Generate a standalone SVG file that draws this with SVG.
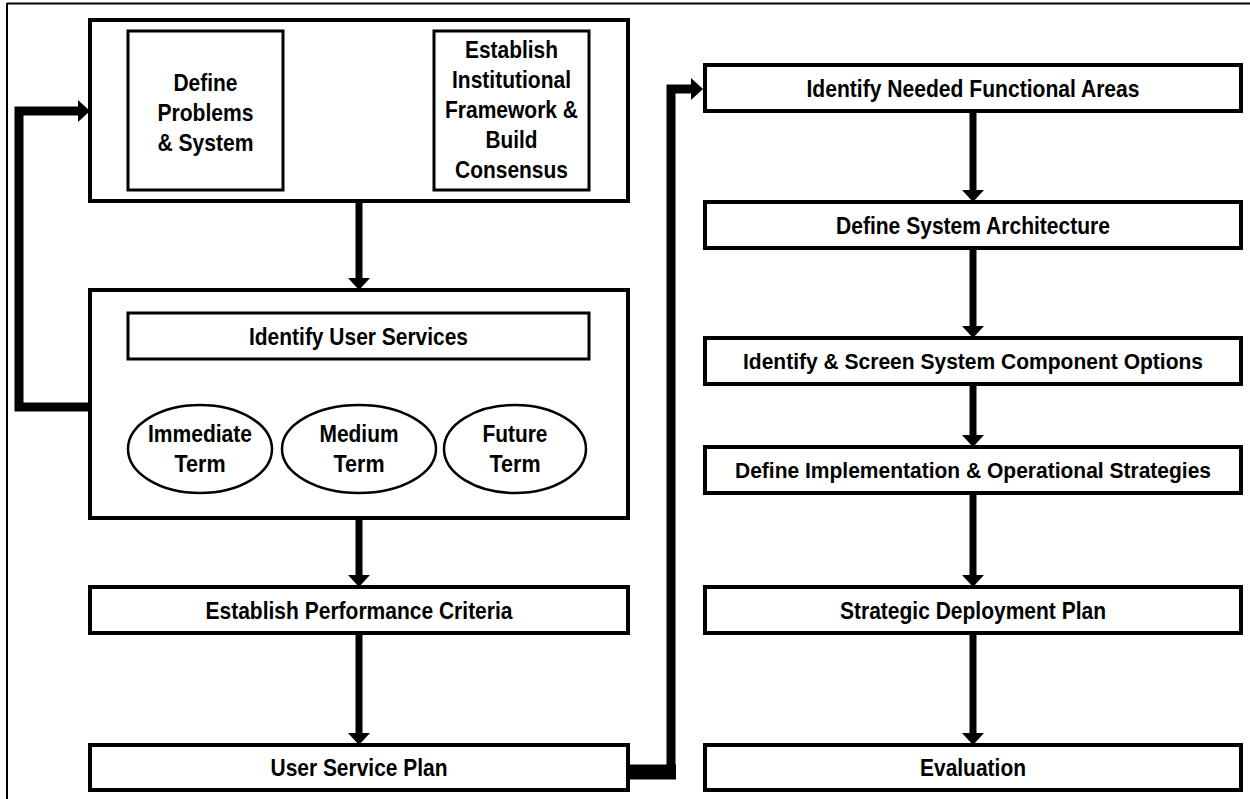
<svg xmlns="http://www.w3.org/2000/svg" width="1250" height="799" viewBox="0 0 1250 799">
<defs>
<style>
.t{font-family:"Liberation Sans",Arial,"DejaVu Sans",sans-serif;font-weight:bold;font-size:24px;text-anchor:middle;fill:#000}
.long{font-size:22.5px}
.big{fill:#fff;stroke:#000;stroke-width:4}
.box{fill:#fff;stroke:#000;stroke-width:4}
.in{fill:#fff;stroke:#000;stroke-width:3}
.ell{fill:#fff;stroke:#000;stroke-width:2.5}
.arr{fill:none;stroke:#000;stroke-width:7}
.thick{fill:none;stroke:#000;stroke-width:9}
.thin{fill:none;stroke:#000;stroke-width:2.5}
</style>
<marker id="ah" markerUnits="userSpaceOnUse" viewBox="0 0 12 22" markerWidth="12" markerHeight="22" refX="6" refY="11" orient="auto-start-reverse">
<path d="M0,0 L12,11 L0,22 Z" fill="#000"/>
</marker>
</defs>
<rect width="1250" height="799" fill="#fff"/>
<g id="frame">
<line x1="7" y1="3.5" x2="1250" y2="3.5" stroke="#000" stroke-width="2"/>
<line x1="7" y1="3" x2="7" y2="799" stroke="#000" stroke-width="2"/>
</g>

<g id="connectors">
<line class="arr" x1="289" y1="113" x2="428" y2="113" marker-start="url(#ah)" marker-end="url(#ah)"/>
<polyline class="thick" points="90,407 19,407 19,111 84,111" marker-end="url(#ah)"/>
<line class="arr" x1="359" y1="203" x2="359" y2="284" marker-end="url(#ah)"/>
<line class="arr" x1="359" y1="520" x2="359" y2="581" marker-end="url(#ah)"/>
<line class="arr" x1="359" y1="635" x2="359" y2="739" marker-end="url(#ah)"/>
<line class="thin" x1="353" y1="360" x2="205" y2="405"/>
<line class="thin" x1="359" y1="360" x2="359" y2="404"/>
<line class="thin" x1="365" y1="360" x2="513" y2="404"/>
<line x1="630" y1="772" x2="676" y2="772" stroke="#000" stroke-width="15"/>
<polyline class="thick" points="671,779 671,89 697,89" marker-end="url(#ah)"/>
<line class="arr" x1="973" y1="113" x2="973" y2="196" marker-end="url(#ah)"/>
<line class="arr" x1="973" y1="250" x2="973" y2="332" marker-end="url(#ah)"/>
<line class="arr" x1="973" y1="386" x2="973" y2="441" marker-end="url(#ah)"/>
<line class="arr" x1="973" y1="495" x2="973" y2="581" marker-end="url(#ah)"/>
<line class="arr" x1="973" y1="635" x2="973" y2="739" marker-end="url(#ah)"/>
</g>

<g id="top-group">
<rect class="big" x="90" y="20" width="538" height="181"/>
</g>
<g id="define-problems">
<rect class="in" x="128" y="31" width="155" height="159"/>
<text class="t" x="205.5" y="91" textLength="64" lengthAdjust="spacingAndGlyphs">Define</text>
<text class="t" x="205.5" y="121" textLength="96" lengthAdjust="spacingAndGlyphs">Problems</text>
<text class="t" x="205.5" y="151" textLength="96" lengthAdjust="spacingAndGlyphs">&amp; System</text>
</g>
<g id="establish-framework">
<rect class="in" x="434" y="31" width="155" height="159"/>
<text class="t" x="511.5" y="58" textLength="93" lengthAdjust="spacingAndGlyphs">Establish</text>
<text class="t" x="511.5" y="88" textLength="119" lengthAdjust="spacingAndGlyphs">Institutional</text>
<text class="t" x="511.5" y="118" textLength="133" lengthAdjust="spacingAndGlyphs">Framework &amp;</text>
<text class="t" x="511.5" y="148" textLength="52" lengthAdjust="spacingAndGlyphs">Build</text>
<text class="t" x="511.5" y="178" textLength="113" lengthAdjust="spacingAndGlyphs">Consensus</text>
</g>

<g id="user-services-group">
<rect class="big" x="90" y="290" width="538" height="228"/>
</g>
<g id="identify-user-services">
<rect class="in" x="128" y="313" width="461" height="46"/>
<text class="t" x="358.5" y="345" textLength="219" lengthAdjust="spacingAndGlyphs">Identify User Services</text>
</g>
<g id="immediate-term">
<ellipse class="ell" cx="200" cy="449" rx="72" ry="44"/>
<text class="t" x="200" y="442" textLength="104" lengthAdjust="spacingAndGlyphs">Immediate</text>
<text class="t" x="200" y="472" textLength="51" lengthAdjust="spacingAndGlyphs">Term</text>
</g>
<g id="medium-term">
<ellipse class="ell" cx="359" cy="449" rx="77" ry="44"/>
<text class="t" x="359" y="442" textLength="79" lengthAdjust="spacingAndGlyphs">Medium</text>
<text class="t" x="359" y="472" textLength="51" lengthAdjust="spacingAndGlyphs">Term</text>
</g>
<g id="future-term">
<ellipse class="ell" cx="515" cy="449" rx="71" ry="44"/>
<text class="t" x="515" y="442" textLength="65" lengthAdjust="spacingAndGlyphs">Future</text>
<text class="t" x="515" y="472" textLength="51" lengthAdjust="spacingAndGlyphs">Term</text>
</g>

<g id="performance-criteria">
<rect class="box" x="90" y="587" width="538" height="46"/>
<text class="t" x="359" y="619" textLength="307" lengthAdjust="spacingAndGlyphs">Establish Performance Criteria</text>
</g>
<g id="user-service-plan">
<rect class="box" x="90" y="745" width="538" height="45"/>
<text class="t" x="359" y="776" textLength="177" lengthAdjust="spacingAndGlyphs">User Service Plan</text>
</g>

<g id="functional-areas">
<rect class="box" x="705" y="65" width="536" height="46"/>
<text class="t" x="973" y="97" textLength="333" lengthAdjust="spacingAndGlyphs">Identify Needed Functional Areas</text>
</g>
<g id="system-architecture">
<rect class="box" x="705" y="202" width="536" height="46"/>
<text class="t" x="973" y="234" textLength="274" lengthAdjust="spacingAndGlyphs">Define System Architecture</text>
</g>
<g id="component-options">
<rect class="box" x="705" y="338" width="536" height="46"/>
<text class="t long" x="973" y="369" textLength="460" lengthAdjust="spacingAndGlyphs">Identify &amp; Screen System Component Options</text>
</g>
<g id="implementation-strategies">
<rect class="box" x="705" y="447" width="536" height="46"/>
<text class="t long" x="973" y="478" textLength="476" lengthAdjust="spacingAndGlyphs">Define Implementation &amp; Operational Strategies</text>
</g>
<g id="deployment-plan">
<rect class="box" x="705" y="587" width="536" height="46"/>
<text class="t" x="973" y="619" textLength="266" lengthAdjust="spacingAndGlyphs">Strategic Deployment Plan</text>
</g>
<g id="evaluation">
<rect class="box" x="705" y="745" width="536" height="45"/>
<text class="t" x="973" y="776" textLength="106" lengthAdjust="spacingAndGlyphs">Evaluation</text>
</g>
</svg>
